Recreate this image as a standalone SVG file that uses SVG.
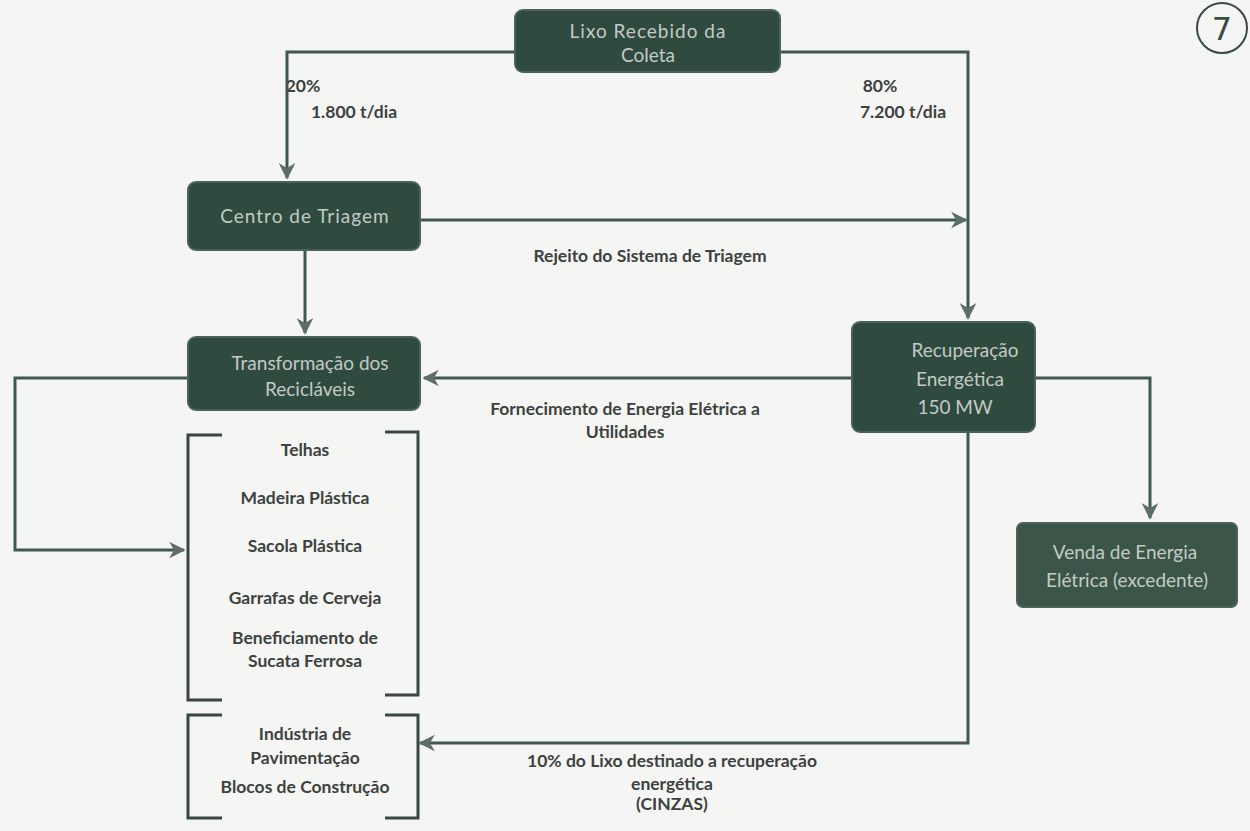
<svg xmlns="http://www.w3.org/2000/svg" width="1250" height="831" viewBox="0 0 1250 831">
<defs>
<marker id="ah" viewBox="0 0 10 10" refX="9" refY="5" markerWidth="5.5" markerHeight="5.5" orient="auto" markerUnits="strokeWidth">
<path d="M0,0 L10,5 L0,10 L3,5 z" fill="#5d6f64"/>
</marker>
<style>
.box{fill:#2f4a3e;stroke:#4c6257;stroke-width:2}
.bt{font-family:Lato,"Open Sans",sans-serif;font-size:19px;fill:#c3cbc5;text-anchor:middle}
.lbl{font-family:Lato,"Open Sans",sans-serif;font-size:17.5px;font-weight:bold;fill:#3c4240;text-anchor:middle}
.ln{fill:none;stroke:#3f5a4c;stroke-width:3}
.br{fill:none;stroke:#3a4640;stroke-width:3}
</style>
</defs>
<rect width="1250" height="831" fill="#f5f5f3"/>

<g id="connectors">
<path class="ln" d="M515,52 H287 V178" marker-end="url(#ah)"/>
<path class="ln" d="M780,52 H968 V318" marker-end="url(#ah)"/>
<path class="ln" d="M420,220 H966" marker-end="url(#ah)"/>
<path class="ln" d="M305,250 V333" marker-end="url(#ah)"/>
<path class="ln" d="M852,378 H424" marker-end="url(#ah)"/>
<path class="ln" d="M1035,378 H1150 V518" marker-end="url(#ah)"/>
<path class="ln" d="M188,378 H15 V550 H184" marker-end="url(#ah)"/>
<path class="ln" d="M968,432 V743 H420" marker-end="url(#ah)"/>
</g>

<g id="lbl-20"><text class="lbl" x="303" y="92">20%</text><text class="lbl" x="354" y="118">1.800 t/dia</text></g>
<g id="lbl-80"><text class="lbl" x="880" y="92">80%</text><text class="lbl" x="903" y="118">7.200 t/dia</text></g>
<g id="lbl-rejeito"><text class="lbl" x="650" y="262">Rejeito do Sistema de Triagem</text></g>
<g id="lbl-fornecimento"><text class="lbl" x="625" y="415">Fornecimento de Energia Elétrica a</text><text class="lbl" x="625" y="438">Utilidades</text></g>
<g id="lbl-cinzas"><text class="lbl" x="672" y="767">10% do Lixo destinado a recuperação</text><text class="lbl" x="672" y="790">energética</text><text class="lbl" x="672" y="810">(CINZAS)</text></g>

<g id="n-lixo"><rect class="box" x="515" y="10" width="265" height="62" rx="8"/><text class="bt" x="648" y="38" letter-spacing="1">Lixo Recebido da</text><text class="bt" x="648" y="62">Coleta</text></g>
<g id="n-triagem"><rect class="box" x="188" y="182" width="232" height="68" rx="8"/><text class="bt" x="305" y="223" letter-spacing="1">Centro de Triagem</text></g>
<g id="n-transf"><rect class="box" x="188" y="337" width="232" height="73" rx="8"/><text class="bt" x="310" y="370">Transformação dos</text><text class="bt" x="310" y="396">Recicláveis</text></g>
<g id="n-recup"><rect class="box" x="852" y="322" width="183" height="110" rx="8"/><text class="bt" x="965" y="357">Recuperação</text><text class="bt" x="960" y="386">Energética</text><text class="bt" x="955" y="414">150 MW</text></g>
<g id="n-venda"><rect class="box" x="1017" y="523" width="220" height="84" rx="6" style="fill:#3b5648"/><text class="bt" x="1125" y="559">Venda de Energia</text><text class="bt" x="1127" y="587">Elétrica (excedente)</text></g>

<g id="n-produtos">
<path class="br" d="M222,435 H188 V700 H222"/>
<path class="br" d="M385,432 H418 V695 H385"/>
<text class="lbl" x="305" y="456">Telhas</text>
<text class="lbl" x="305" y="504">Madeira Plástica</text>
<text class="lbl" x="305" y="552">Sacola Plástica</text>
<text class="lbl" x="305" y="604">Garrafas de Cerveja</text>
<text class="lbl" x="305" y="644">Beneficiamento de</text>
<text class="lbl" x="305" y="667">Sucata Ferrosa</text>
</g>
<g id="n-industria">
<path class="br" d="M222,715 H188 V818 H222"/>
<path class="br" d="M385,715 H418 V818 H385"/>
<text class="lbl" x="305" y="740">Indústria de</text>
<text class="lbl" x="305" y="764">Pavimentação</text>
<text class="lbl" x="305" y="793">Blocos de Construção</text>
</g>

<g id="pagenum">
<circle cx="1222" cy="28" r="25" fill="none" stroke="#3a4a44" stroke-width="2"/>
<text x="1222" y="40" font-family="'DejaVu Sans',sans-serif" font-size="32" fill="#3a4a44" text-anchor="middle">7</text>
</g>
</svg>
